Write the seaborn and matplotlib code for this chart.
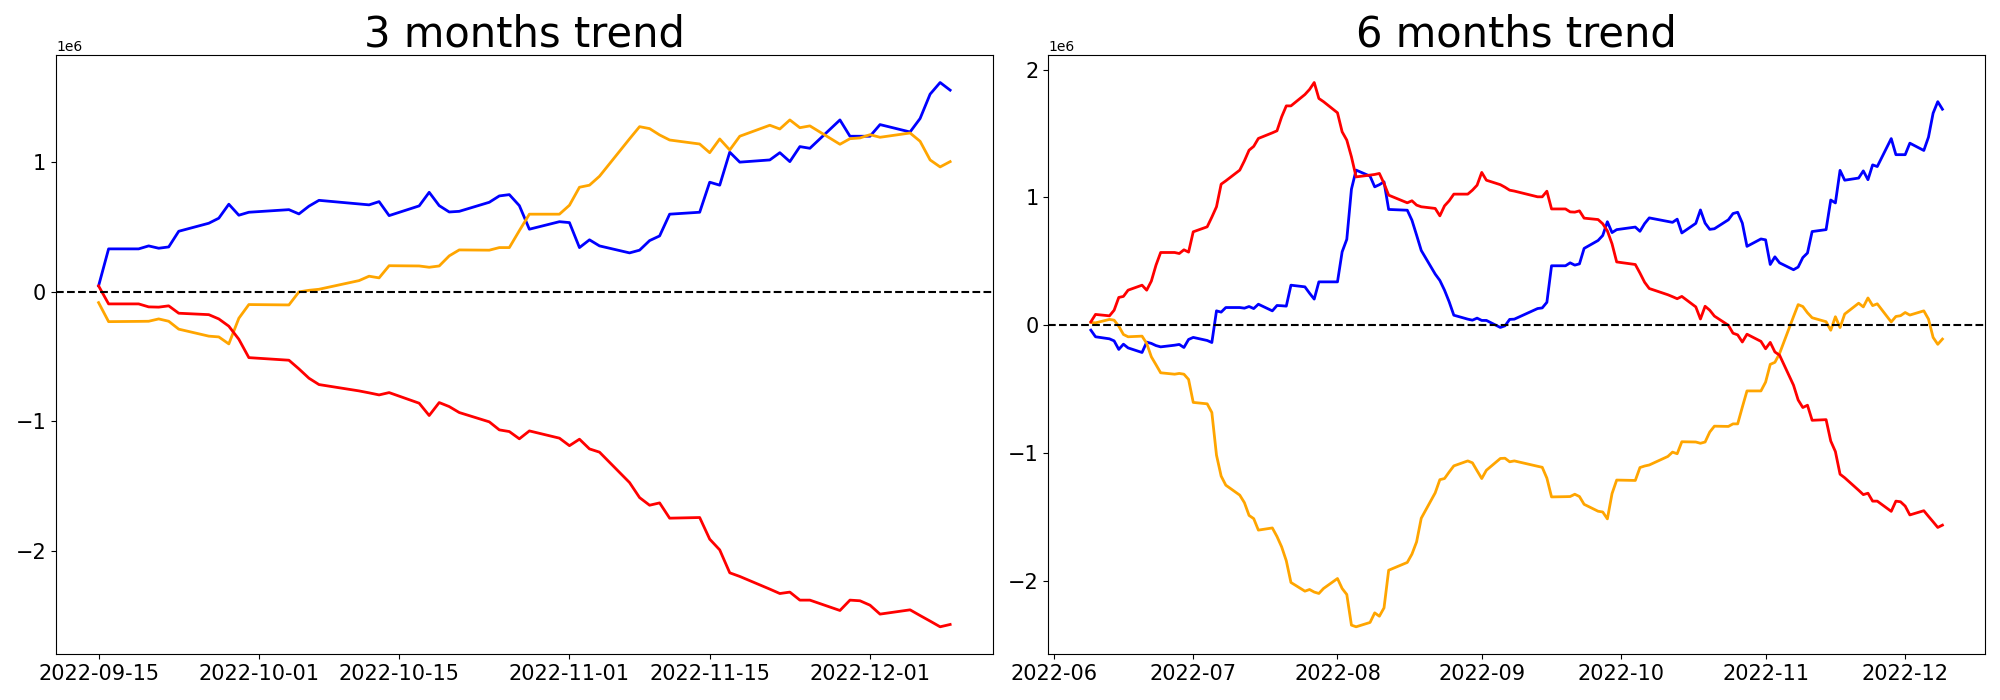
import matplotlib
matplotlib.use("Agg")
import matplotlib.pyplot as plt
import seaborn as sns
import pandas as pd

# ---- 3 months panel (values in millions) ----
three_dates = [
    "2022-09-15", "2022-09-16", "2022-09-19", "2022-09-20", "2022-09-21", "2022-09-22", "2022-09-23",
    "2022-09-26", "2022-09-27", "2022-09-28", "2022-09-29", "2022-09-30",
    "2022-10-04", "2022-10-05", "2022-10-06", "2022-10-07", "2022-10-11", "2022-10-12", "2022-10-13",
    "2022-10-14", "2022-10-17", "2022-10-18", "2022-10-19", "2022-10-20", "2022-10-21", "2022-10-24",
    "2022-10-25", "2022-10-26", "2022-10-27", "2022-10-28", "2022-10-31",
    "2022-11-01", "2022-11-02", "2022-11-03", "2022-11-04", "2022-11-07", "2022-11-08", "2022-11-09",
    "2022-11-10", "2022-11-11", "2022-11-14", "2022-11-15", "2022-11-16", "2022-11-17", "2022-11-18",
    "2022-11-21", "2022-11-22", "2022-11-23", "2022-11-24", "2022-11-25", "2022-11-28", "2022-11-29",
    "2022-11-30", "2022-12-01", "2022-12-02", "2022-12-05", "2022-12-06", "2022-12-07", "2022-12-08",
    "2022-12-09",
]
three_blue = [
    0.044, 0.33, 0.33, 0.353, 0.335, 0.345, 0.466, 0.528, 0.567, 0.675, 0.59, 0.613,
    0.633, 0.60, 0.66, 0.705, 0.677, 0.67, 0.695, 0.587,
    0.662, 0.767, 0.664, 0.615, 0.62, 0.69, 0.739, 0.749, 0.664, 0.482, 0.54,
    0.533, 0.34, 0.40, 0.353, 0.299, 0.32, 0.394, 0.43, 0.598,
    0.613, 0.845, 0.822, 1.077, 1.0, 1.017, 1.073, 1.004, 1.12, 1.107,
    1.326, 1.2, 1.2, 1.2, 1.29, 1.233, 1.337, 1.525, 1.615, 1.556,
]
three_orange = [
    -0.085, -0.232, -0.23, -0.229, -0.211, -0.229, -0.29, -0.344, -0.35, -0.404, -0.206, -0.10,
    -0.103, -0.002, 0.01, 0.018, 0.085, 0.119, 0.106, 0.20,
    0.198, 0.188, 0.198, 0.276, 0.322, 0.32, 0.34, 0.34, 0.471, 0.598, 0.598,
    0.667, 0.806, 0.822, 0.891, 1.18, 1.274, 1.259, 1.21, 1.171,
    1.14, 1.073, 1.179, 1.094, 1.2, 1.285, 1.256, 1.326, 1.266, 1.28,
    1.138, 1.181, 1.187, 1.212, 1.192, 1.225, 1.161, 1.017, 0.963, 1.004,
]
three_red = [
    0.044, -0.095, -0.095, -0.118, -0.12, -0.11, -0.167, -0.178, -0.211, -0.267, -0.368, -0.51,
    -0.53, -0.597, -0.669, -0.718, -0.767, -0.782, -0.798, -0.78,
    -0.862, -0.957, -0.857, -0.888, -0.934, -1.006, -1.068, -1.081, -1.137, -1.076, -1.132,
    -1.19, -1.14, -1.215, -1.24, -1.475, -1.591, -1.65, -1.632, -1.75,
    -1.745, -1.912, -1.995, -2.172, -2.2, -2.298, -2.332, -2.321, -2.383, -2.383,
    -2.463, -2.383, -2.388, -2.422, -2.491, -2.458, -2.502, -2.545, -2.589, -2.571,
]

# ---- 6 months panel (values in millions) ----
six_dates = [
    "2022-06-09", "2022-06-10", "2022-06-13", "2022-06-14", "2022-06-15", "2022-06-16", "2022-06-17",
    "2022-06-20", "2022-06-21", "2022-06-22", "2022-06-23", "2022-06-24", "2022-06-27", "2022-06-28",
    "2022-06-29", "2022-06-30",
    "2022-07-01", "2022-07-04", "2022-07-05", "2022-07-06", "2022-07-07", "2022-07-08", "2022-07-11",
    "2022-07-12", "2022-07-13", "2022-07-14", "2022-07-15", "2022-07-18", "2022-07-19", "2022-07-20",
    "2022-07-21", "2022-07-22", "2022-07-25", "2022-07-26", "2022-07-27", "2022-07-28", "2022-07-29",
    "2022-08-01", "2022-08-02", "2022-08-03", "2022-08-04", "2022-08-05", "2022-08-08", "2022-08-09",
    "2022-08-10", "2022-08-11", "2022-08-12", "2022-08-16", "2022-08-17", "2022-08-18", "2022-08-19",
    "2022-08-22", "2022-08-23", "2022-08-24", "2022-08-25", "2022-08-26", "2022-08-29", "2022-08-30",
    "2022-08-31",
    "2022-09-01", "2022-09-02", "2022-09-05", "2022-09-06", "2022-09-07", "2022-09-08", "2022-09-13",
    "2022-09-14",
] + three_dates
six_blue = [
    -0.039, -0.091, -0.107, -0.123, -0.19, -0.149, -0.178, -0.214, -0.133, -0.143, -0.16, -0.17,
    -0.157, -0.151, -0.175, -0.112,
    -0.096, -0.12, -0.136, 0.112, 0.102, 0.138, 0.138, 0.133, 0.146, 0.13, 0.164, 0.112, 0.154,
    0.152, 0.149, 0.313, 0.30, 0.25, 0.204, 0.339, 0.339,
    0.339, 0.574, 0.672, 1.065, 1.214, 1.167, 1.083, 1.10, 1.122, 0.906, 0.90, 0.822, 0.705,
    0.585, 0.40, 0.35, 0.274, 0.183, 0.078, 0.047, 0.039, 0.055,
    0.037, 0.037, -0.018, -0.005, 0.045, 0.047, 0.13, 0.135,
    0.179, 0.465, 0.465, 0.488, 0.47, 0.48, 0.601, 0.663, 0.702, 0.81, 0.725, 0.748,
    0.768, 0.735, 0.795, 0.84, 0.812, 0.805, 0.83, 0.722,
    0.797, 0.902, 0.799, 0.75, 0.755, 0.825, 0.874, 0.884, 0.799, 0.617, 0.675,
    0.668, 0.475, 0.535, 0.488, 0.434, 0.455, 0.529, 0.565, 0.733,
    0.748, 0.98, 0.957, 1.212, 1.135, 1.152, 1.208, 1.139, 1.255, 1.242,
    1.461, 1.335, 1.335, 1.335, 1.425, 1.368, 1.472, 1.66, 1.75, 1.691,
]
six_orange = [
    0.021, 0.018, 0.045, 0.039, -0.008, -0.073, -0.091, -0.086, -0.143, -0.248, -0.31, -0.373,
    -0.384, -0.378, -0.384, -0.425,
    -0.605, -0.616, -0.684, -1.018, -1.182, -1.253, -1.331, -1.39, -1.49, -1.515, -1.605, -1.588,
    -1.655, -1.736, -1.845, -2.015, -2.083, -2.07, -2.09, -2.101, -2.062,
    -1.984, -2.062, -2.109, -2.349, -2.362, -2.328, -2.253, -2.279, -2.214, -1.919, -1.858, -1.793,
    -1.697, -1.512, -1.313, -1.21, -1.201, -1.15, -1.102, -1.063, -1.078, -1.14,
    -1.201, -1.136, -1.044, -1.042, -1.07, -1.063, -1.105, -1.113,
    -1.198, -1.345, -1.343, -1.342, -1.324, -1.342, -1.403, -1.457, -1.463, -1.517, -1.319, -1.213,
    -1.216, -1.115, -1.103, -1.095, -1.028, -0.994, -1.007, -0.913,
    -0.915, -0.925, -0.915, -0.837, -0.791, -0.793, -0.773, -0.773, -0.642, -0.515, -0.515,
    -0.446, -0.307, -0.291, -0.222, 0.067, 0.161, 0.146, 0.097, 0.058,
    0.027, -0.04, 0.066, -0.019, 0.087, 0.172, 0.143, 0.213, 0.153, 0.167,
    0.025, 0.068, 0.074, 0.099, 0.079, 0.112, 0.048, -0.096, -0.15, -0.109,
]
six_red = [
    0.026, 0.084, 0.073, 0.117, 0.217, 0.225, 0.274, 0.313, 0.274, 0.345, 0.47, 0.569,
    0.569, 0.561, 0.59, 0.572,
    0.731, 0.77, 0.846, 0.927, 1.104, 1.13, 1.214, 1.287, 1.37, 1.40, 1.462, 1.506, 1.522,
    1.631, 1.717, 1.717, 1.806, 1.846, 1.90, 1.775, 1.75,
    1.663, 1.514, 1.449, 1.318, 1.161, 1.175, 1.18, 1.188, 1.11, 1.018, 0.958, 0.974, 0.94,
    0.927, 0.914, 0.856, 0.934, 0.974, 1.026, 1.026, 1.057, 1.096,
    1.196, 1.135, 1.10, 1.08, 1.057, 1.05, 1.005, 1.005,
    1.049, 0.91, 0.91, 0.887, 0.885, 0.895, 0.838, 0.827, 0.794, 0.738, 0.637, 0.495,
    0.475, 0.408, 0.336, 0.287, 0.238, 0.223, 0.207, 0.225,
    0.143, 0.048, 0.148, 0.117, 0.071, -0.001, -0.063, -0.076, -0.132, -0.071, -0.127,
    -0.185, -0.135, -0.21, -0.235, -0.47, -0.586, -0.645, -0.627, -0.745,
    -0.74, -0.907, -0.99, -1.167, -1.195, -1.293, -1.327, -1.316, -1.378, -1.378,
    -1.458, -1.378, -1.383, -1.417, -1.486, -1.453, -1.497, -1.54, -1.584, -1.566,
]

series_order = ["blue", "orange", "red"]
palette = {"blue": "blue", "orange": "orange", "red": "red"}


def draw_trend(ax, dates, blue, orange, red, title):
    df = pd.DataFrame({"date": pd.to_datetime(dates), "blue": blue, "orange": orange, "red": red})
    long = df.melt(id_vars="date", var_name="series", value_name="value")
    long["value"] = long["value"] * 1e6

    sns.lineplot(data=long, x="date", y="value", hue="series", hue_order=series_order,
                 palette=palette, estimator=None, linewidth=2, legend=False, ax=ax)
    ax.axhline(0, color="black", linestyle="--", linewidth=1.5)

    ax.set_title(title, fontsize=30)
    ax.set_xlabel("")
    ax.set_ylabel("")
    ax.tick_params(axis="both", labelsize=15)
    ax.yaxis.get_offset_text().set_fontsize(10)


fig, (ax1, ax2) = plt.subplots(1, 2, figsize=(20, 7), dpi=100)
fig.subplots_adjust(left=0.028, right=0.9925, bottom=0.0657, top=0.921, wspace=0.0593)

draw_trend(ax1, three_dates, three_blue, three_orange, three_red, "3 months trend")
draw_trend(ax2, six_dates, six_blue, six_orange, six_red, "6 months trend")

fig.savefig("out.png", dpi=100, facecolor="white")
